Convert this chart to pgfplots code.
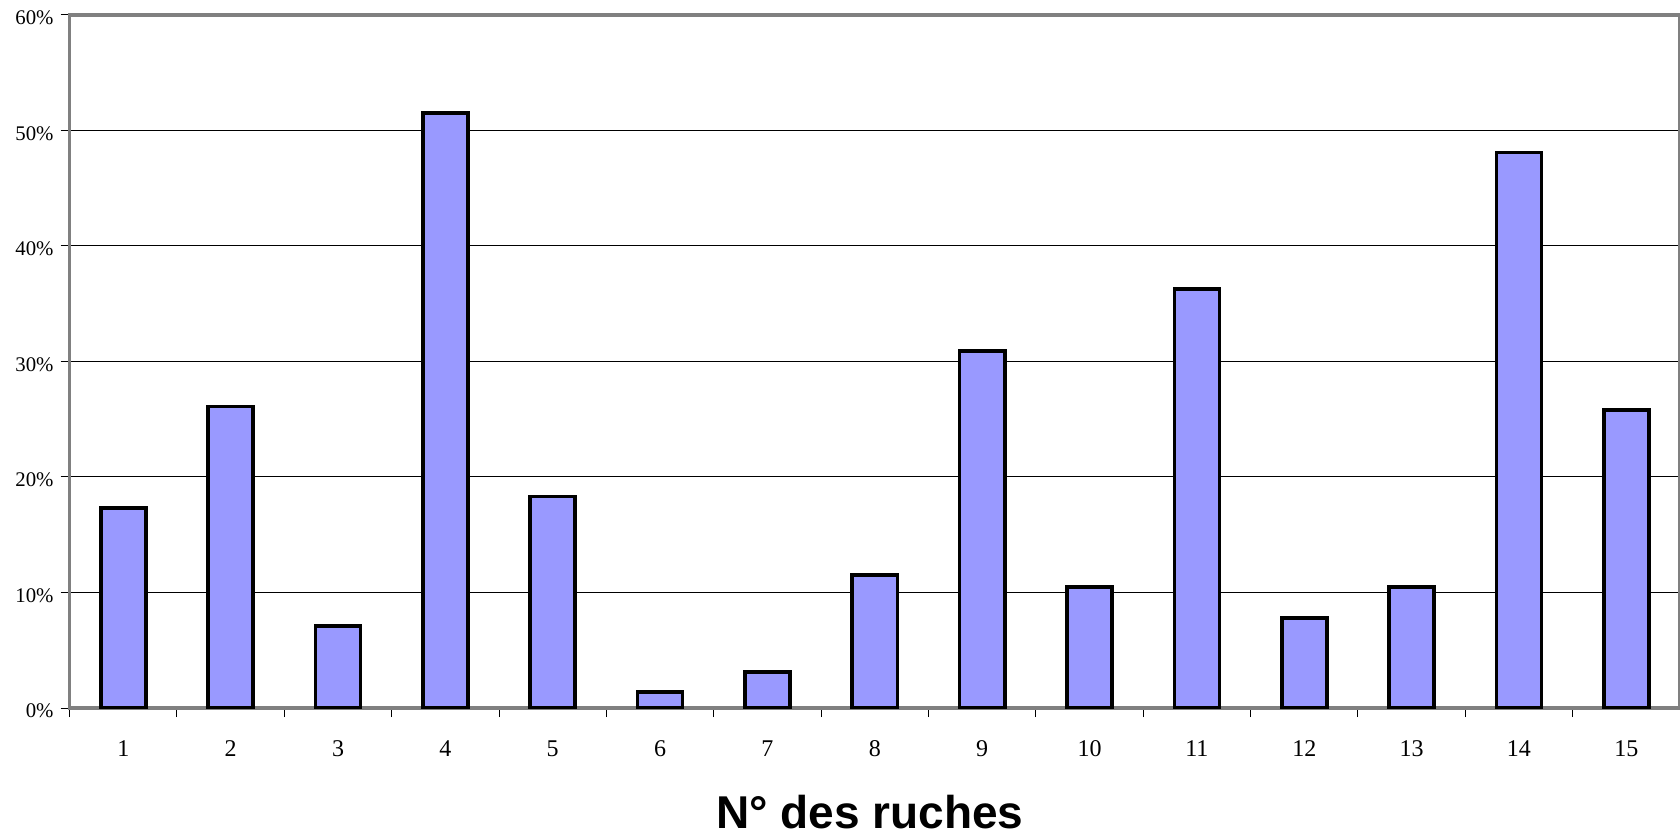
\documentclass[border=0pt]{standalone}
\usepackage{fontspec}
\setmainfont{Liberation Serif}
\newfontfamily\labfont{Liberation Sans}
\usepackage{pgfplots}
\pgfplotsset{compat=1.18}
\definecolor{barblue}{HTML}{9999FF}
\definecolor{axgray}{HTML}{808080}

\begin{document}
\begin{tikzpicture}
\useasboundingbox (0,0) rectangle (840pt,420pt);
\begin{axis}[
    at={(34.8pt,66pt)}, anchor=south west,
    scale only axis,
    width=805.2pt, height=346.5pt,
    xmin=0.5, xmax=15.5,
    ymin=0, ymax=60,
    ytick={0,10,...,60},
    yticklabel={\pgfmathprintnumber{\tick}\%},
    yticklabel style={font=\fontsize{10.4}{12}\selectfont, yshift=-1.5pt},
    xtick={0.5,1.5,...,15.5},
    xticklabels={},
    extra x ticks={1,...,15},
    extra x tick style={major tick length=0pt, grid=none},
    xticklabel style={font=\fontsize{12}{14}\selectfont, anchor=base, yshift=-24pt},
    /pgf/number format/assume math mode=true,
    xtick pos=bottom, ytick pos=left,
    tick align=outside,
    major tick length=4.5pt,
    tick style={black, line width=0.5pt},
    ymajorgrids,
    major grid style={black, line width=0.5pt},
    axis line style={axgray, line width=1.8pt},
    xlabel={N° des ruches},
    xlabel style={font=\labfont\bfseries\fontsize{23}{26}\selectfont,
        at={(axis description cs:0.497,0)}, anchor=base, yshift=-60pt},
]
\addplot[ybar, bar width=0.42, fill=barblue, draw=black, line width=1.8pt]
coordinates {
    (1,17.3) (2,26.1) (3,7.1) (4,51.5) (5,18.3)
    (6,1.4) (7,3.1) (8,11.5) (9,30.9) (10,10.5)
    (11,36.3) (12,7.8) (13,10.5) (14,48.1) (15,25.8)
};
\end{axis}
\end{tikzpicture}
\end{document}
